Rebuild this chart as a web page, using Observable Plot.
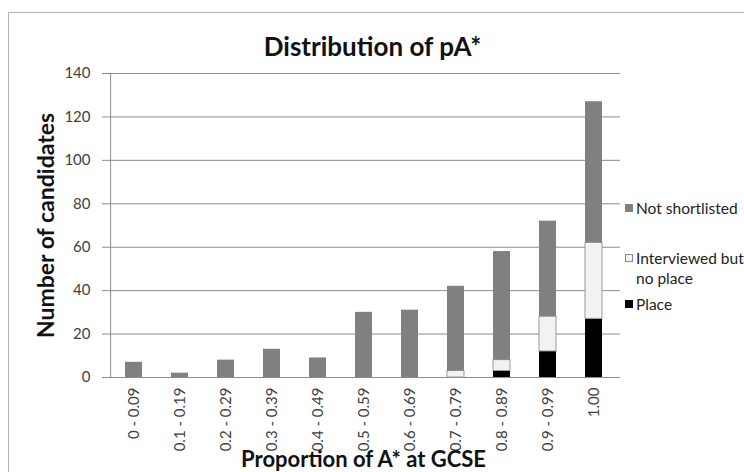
<!DOCTYPE html>
<html>
<head>
<meta charset="utf-8">
<script src="https://cdn.jsdelivr.net/npm/d3@7"></script>
<script src="https://cdn.jsdelivr.net/npm/@observablehq/plot@0.6"></script>
<style>
  body { margin: 0; background: #fff; }
  #wrap { position: relative; width: 744px; height: 472px; overflow: hidden; font-family: Lato, "Open Sans", sans-serif; }
  #frame { position: absolute; left: 8px; top: 12px; width: 800px; height: 500px; border: 1.5px solid #b4b4b4; box-sizing: border-box; pointer-events: none; }
  #legend { position: absolute; left: 625px; top: 0px; font-size: 15.5px; color: #222; white-space: nowrap; line-height: 20px; }
  .item { position: absolute; padding-left: 11px; }
  .sw { position: absolute; left: 0; top: 6px; width: 8px; height: 8px; box-sizing: border-box; }
</style>
</head>
<body>
<div id="wrap">
  <div id="chart"></div>
  <div id="frame"></div>
  <div id="legend"></div>
</div>
<script>
const categories = ["0 - 0.09","0.1 - 0.19","0.2 - 0.29","0.3 - 0.39","0.4 - 0.49","0.5 - 0.59","0.6 - 0.69","0.7 - 0.79","0.8 - 0.89","0.9 - 0.99","1.00"];
const seriesNames = ["Place", "Interviewed but no place", "Not shortlisted"];
const place         = [0, 0, 0, 0, 0, 0, 0, 0, 3, 12, 27];
const interviewed   = [0, 0, 0, 0, 0, 0, 0, 3, 5, 16, 35];
const notShortlisted= [7, 2, 8, 13, 9, 30, 31, 39, 50, 44, 65];
const yTicks = [0, 20, 40, 60, 80, 100, 120, 140];
const colors = ["#000000", "#f2f2f2", "#808080"];

const seriesValues = [place, interviewed, notShortlisted];
const data = [];
categories.forEach((c, i) => {
  seriesNames.forEach((s, j) => data.push({cat: c, series: s, value: seriesValues[j][i]}));
});

const W = 744, H = 472, ML = 106, MR = 124, MT = 73, MB = 95;
const step = (W - ML - MR) / categories.length;
const font = "Lato, 'Open Sans', sans-serif";

const chart = Plot.plot({
  width: W,
  height: H,
  marginLeft: ML,
  marginRight: MR,
  marginTop: MT,
  marginBottom: MB,
  style: {fontFamily: font, fontSize: "15px", color: "#404040", background: "transparent", overflow: "visible"},
  x: {domain: categories, paddingInner: 0.636, paddingOuter: 0.318, label: null},
  y: {domain: [0, 140], ticks: yTicks, label: null},
  color: {domain: seriesNames, range: colors},
  marks: [
    Plot.gridY(yTicks, {stroke: "#8c8c8c", strokeOpacity: 1, strokeWidth: 1}),
    Plot.ruleX([categories[0]], {dx: -step / 2, y1: 0, y2: 140, stroke: "#8c8c8c"}),
    Plot.barY(data.filter(d => d.value > 0), {x: "cat", y: "value", fill: "series",
      stroke: d => d.series === "Interviewed but no place" ? "#9a9a9a" : "none", strokeWidth: 1}),
    Plot.axisY({ticks: yTicks, tickSize: 4, tickPadding: 12, stroke: "#8c8c8c", fontSize: 15, fill: "#404040", label: null}),
    Plot.axisX({tickRotate: -90, tickSize: 0, tickPadding: 10, fontSize: 15, fill: "#404040", label: null}),
    Plot.text(["Distribution of pA*"], {frameAnchor: "top", dy: -18, dx: 9, fontSize: 26, fontWeight: "bold", fill: "#111", lineAnchor: "bottom"}),
    Plot.text(["Number of candidates"], {frameAnchor: "left", dx: -53, rotate: -90, textAnchor: "middle", lineAnchor: "bottom", fontSize: 23, fontWeight: "bold", fill: "#111"}),
    Plot.text(["Proportion of A* at GCSE"], {frameAnchor: "bottom", dy: 89, lineAnchor: "bottom", fontSize: 22, fontWeight: "bold", fill: "#111"})
  ]
});
document.getElementById("chart").appendChild(chart);

const legend = document.getElementById("legend");
const legendItems = [
  {color: colors[2], lines: ["Not shortlisted"], top: 198},
  {color: colors[1], lines: ["Interviewed but", "no place"], top: 248},
  {color: colors[0], lines: ["Place"], top: 294}
];
legendItems.forEach(it => {
  const div = document.createElement("div");
  div.className = "item";
  div.style.top = it.top + "px";
  const sw = document.createElement("span");
  sw.className = "sw";
  sw.style.background = it.color;
  if (it.color === "#f2f2f2") sw.style.border = "1px solid #888";
  div.appendChild(sw);
  div.insertAdjacentHTML("beforeend", it.lines.join("<br>"));
  legend.appendChild(div);
});
</script>
</body>
</html>
